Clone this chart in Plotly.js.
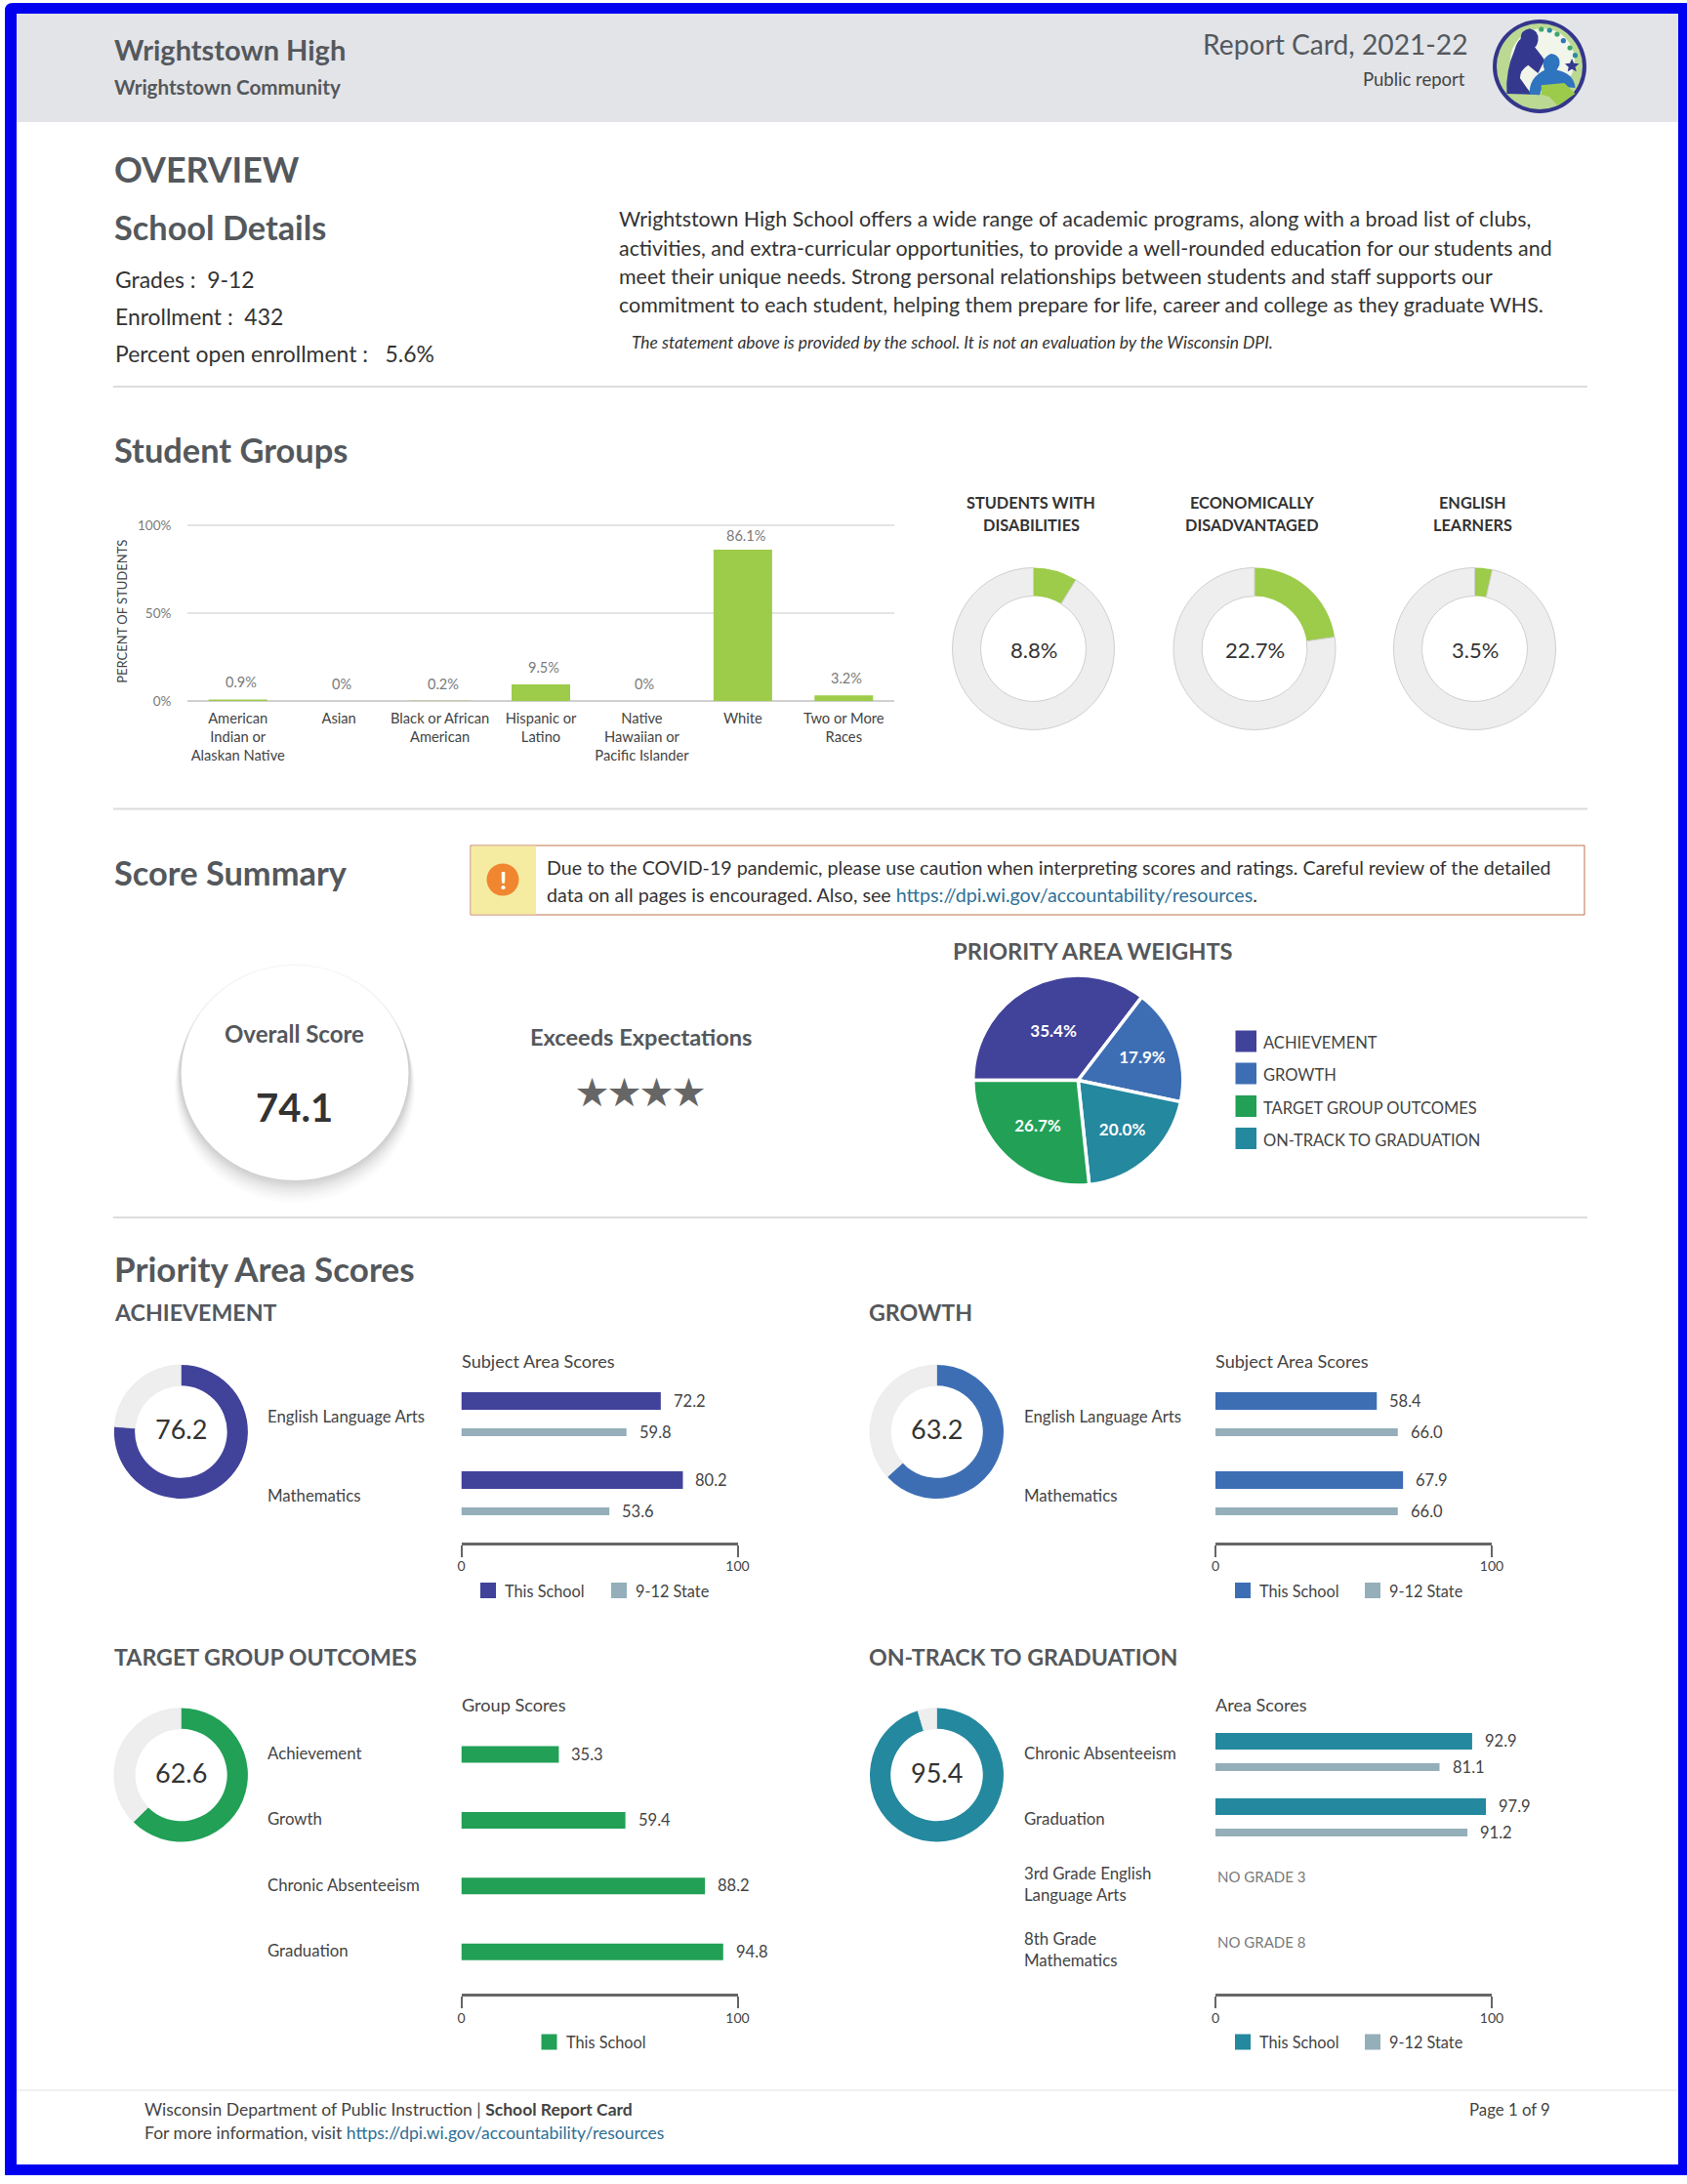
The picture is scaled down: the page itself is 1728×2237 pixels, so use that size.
<!DOCTYPE html>
<html><head><meta charset="utf-8">
<script src="https://cdn.plot.ly/plotly-3.0.1.min.js"></script>
<style>html,body{margin:0;padding:0;background:#fff}#chart{width:1728px;height:2237px}</style>
</head><body><div id="chart"></div>
<script>
// ---------- DATA ----------
const schoolName='Wrightstown High', districtName='Wrightstown Community';
const reportTitle='Report Card, 2021-22', reportSub='Public report';
const schoolDetails=['Grades :\u00a0 9-12','Enrollment :\u00a0 432','Percent open enrollment :\u00a0\u00a0 5.6%'];
const aboutLines=[
 'Wrightstown High School offers a wide range of academic programs, along with a broad list of clubs,',
 'activities, and extra-curricular opportunities, to provide a well-rounded education for our students and',
 'meet their unique needs. Strong personal relationships between students and staff supports our',
 'commitment to each student, helping them prepare for life, career and college as they graduate WHS.'];
const groupCategories=['American<br>Indian or<br>Alaskan Native','Asian','Black or African<br>American','Hispanic or<br>Latino','Native<br>Hawaiian or<br>Pacific Islander','White','Two or More<br>Races'];
const groupPercents=[0.9,0,0.2,9.5,0,86.1,3.2];
const swdPercent=[8.8,91.2], econPercent=[22.7,77.3], elPercent=[3.5,96.5];
const weightLabels=['ACHIEVEMENT','GROWTH','ON-TRACK TO GRADUATION','TARGET GROUP OUTCOMES'];
const weightValues=[35.4,17.9,20.0,26.7];
const weightLegendOrder=['ACHIEVEMENT','GROWTH','TARGET GROUP OUTCOMES','ON-TRACK TO GRADUATION'];
const overallScore='74.1', overallRating='Exceeds Expectations', ratingStars='★★★★';
const achCategories=['English Language Arts','Mathematics'];
const achSchool=[72.2,80.2], achState=[59.8,53.6], achDonut=[76.2,23.8];
const growthSchool=[58.4,67.9], growthState=[66.0,66.0], growthDonut=[63.2,36.8];
const targetCategories=['Achievement','Growth','Chronic Absenteeism','Graduation'];
const targetSchool=[35.3,59.4,88.2,94.8], targetDonut=[62.6,37.4];
const trackCategories=['Chronic Absenteeism','Graduation','3rd Grade English<br>Language Arts','8th Grade<br>Mathematics'];
const trackSchool=[92.9,97.9,null,null], trackState=[81.1,91.2,null,null], trackDonut=[95.4,4.6];
const trackNotes=[null,null,'NO GRADE 3','NO GRADE 8'];

// ---------- HELPERS ----------
const W=1728,H=2237,F='Lato, sans-serif';
const px=x=>x/W, py=y=>1-y/H;
const INK='#54585c', DARK='#333', MID='#444', GREY='#7a7a7a';
const annotations=[],shapes=[],traces=[],layout={};
function T(x,y,text,size,o={}){annotations.push({xref:'paper',yref:'paper',x:px(x-2),y:py(y-1.5),text,showarrow:false,
  xanchor:o.a||'left',yanchor:'middle',borderpad:0,textangle:o.angle||0,
  font:{family:o.family||F,size,color:o.color||DARK,weight:o.weight||400,style:o.style||'normal'}});}
function R(x0,y0,x1,y1,fill,line,lw){shapes.push({type:'rect',xref:'paper',yref:'paper',x0:px(x0),x1:px(x1),y0:py(y0),y1:py(y1),
  fillcolor:fill,line:{color:line||fill,width:line?(lw||1):0},layer:'below'});}
function C(cx,cy,r,fill,o={}){const ry=o.ry||r;shapes.push({type:'circle',xref:'paper',yref:'paper',x0:px(cx-r),x1:px(cx+r),y0:py(cy-ry),y1:py(cy+ry),
  fillcolor:fill,opacity:o.op==null?1:o.op,line:{color:o.line||fill,width:o.lw||0},layer:'below'});}
function P(d,fill,fx,fy){shapes.push({type:'path',xref:'paper',yref:'paper',layer:'below',fillcolor:fill,line:{width:0},
  path:d.replace(/(-?[\d.]+) (-?[\d.]+)/g,(m,a,b)=>px(fx?fx(+a):+a)+','+py(fy?fy(+b):+b))});}

// ---------- PAGE FRAME ----------
P('M5 11 Q5 3 13 3 L1728 3 L1728 2228 L5 2228 Z','#0000f0');
R(17,14,1719,2217,'#ffffff');
R(17,14,1719,125,'#e3e4e8');
[[396],[828.5],[1247]].forEach(([y])=>R(116,y-1,1626,y+1,'#dcdcdc'));
R(17,2140,1719,2142,'#f0f0f0');

// ---------- HEADER ----------
T(118,52,schoolName,29,{color:INK,weight:700});
T(118,90,districtName,20.6,{color:INK,weight:700});
T(1507,46,reportTitle,28.2,{a:'right',color:INK});
T(1504,82,reportSub,18.5,{a:'right',color:MID});
// logo
C(1577,68,48,'#34358c'); C(1577,68,44,'#bcd994'); C(1580,62,33,'#f2f5ea');
const lx=x=>1200+x/2.97, ly=y=>y/3;
P('M1090 88 Q1120 95 1115 125 Q1112 140 1105 145 Q1125 170 1135 185 L1115 225 L1085 200 Q1060 215 1060 240 L1095 290 L1020 288 Q1015 220 1045 150 Q1050 130 1062 120 Q1062 92 1090 88 Z','#34398f',lx,ly);
P('M1155 165 Q1185 170 1180 200 L1172 215 Q1225 225 1228 270 L1130 262 L1120 292 L1090 290 Q1085 240 1135 215 Q1120 180 1155 165 Z','#2f74bf',lx,ly);
P('M1125 262 L1195 255 L1228 288 L1175 325 L1150 298 L1125 290 Z','#9ccb4c',lx,ly);
P('M1218 180 L1224 194 L1240 196 L1228 206 L1232 220 L1218 212 L1205 220 L1208 206 L1197 196 L1212 194 Z','#34398f',lx,ly);
[[1125,90,'#3fa56d'],[1150,93,'#2f8aa0'],[1173,105,'#3fa56d'],[1192,125,'#2f74bf'],[1212,147,'#3fa56d'],[1228,170,'#2f8aa0']]
  .forEach(([a,b,c])=>C(lx(a),ly(b),2.6,c));

// ---------- OVERVIEW ----------
T(118,175,'OVERVIEW',35.8,{color:INK,weight:700});
T(118,234,'School Details',34.3,{color:INK,weight:700});
schoolDetails.forEach((t,i)=>T(119,[288,325,363.5][i],t,22.9,{color:DARK}));
aboutLines.forEach((t,i)=>T(634.5,[225.5,255,284.5,314][i],t,21.4,{color:DARK}));
T(648,352,'The statement above is provided by the school. It is not an evaluation by the Wisconsin DPI.',17.4,{style:'italic',color:DARK});

// ---------- STUDENT GROUPS ----------
T(118,462,'Student Groups',34.4,{color:INK,weight:700});
traces.push({type:'bar',x:groupCategories,y:groupPercents,xaxis:'x',yaxis:'y',marker:{color:'#9dcb4a'},hoverinfo:'skip'});
layout.xaxis={domain:[px(192),px(916)],anchor:'y',type:'category',categoryorder:'array',categoryarray:groupCategories,
  tickfont:{family:F,size:14.7,color:MID},ticks:'outside',ticklen:4,tickcolor:'rgba(0,0,0,0)',showgrid:false,showline:false,zeroline:false,tickangle:0};
layout.yaxis={domain:[py(718),py(534.4)],anchor:'x',range:[0,102],tickvals:[0,50,100],ticktext:['0%','50%','100%'],
  tickfont:{family:F,size:13.5,color:GREY},ticks:'outside',ticklen:13,tickcolor:'rgba(0,0,0,0)',gridcolor:'#e4e4e4',gridwidth:1.5,
  zeroline:true,zerolinecolor:'#d0d0d0',zerolinewidth:1.5,showline:false,
  title:{text:'PERCENT OF STUDENTS',standoff:6.5,font:{family:F,size:13,color:MID}}};
groupPercents.forEach((v,i)=>annotations.push({xref:'x',yref:'y',x:groupCategories[i],y:v,text:v+'%',showarrow:false,xshift:3,yshift:v>50?14.5:17.5,
  yanchor:'middle',xanchor:'center',font:{family:F,size:14.5,color:GREY}}));
function donut(values,cx,cy,d,hole,color,outline){
  traces.push({type:'pie',values,sort:false,direction:'clockwise',rotation:0,hole,textinfo:'none',hoverinfo:'skip',showlegend:false,
   domain:{x:[px(cx-d/2),px(cx+d/2)],y:[py(cy+d/2),py(cy-d/2)]},
   marker:{colors:[color,'#eeeeee'],line:{color:outline?['#9dcb4a','#cfcfcf']:['#ffffff','#e4e4e4'],width:outline?[0,1]:[0,0.5]}}});
}
const GREEN='#9dcb4a';
[['STUDENTS WITH','DISABILITIES',1058,swdPercent,1058.5],['ECONOMICALLY','DISADVANTAGED',1284,econPercent,1285],['ENGLISH','LEARNERS',1510,elPercent,1510.5]]
 .forEach(([a,b,tx,vals,cx])=>{
  T(tx,515.5,a,16.3,{a:'center',color:DARK,weight:700});T(tx,539.5,b,16.3,{a:'center',color:DARK,weight:700});
  donut(vals,cx,664.5,166,0.65,GREEN,true);
  T(cx+2,667,vals[0]+'%',22,{a:'center',color:DARK});
 });

// ---------- SCORE SUMMARY ----------
T(118,895,'Score Summary',34.4,{color:INK,weight:700});
R(482,866,1623,937,'#ffffff','#c0704a',1);
R(482.5,866.5,549,936.5,'#f5eca2');
C(515,901,16.5,'#f0862f');
T(517,902,'!',25,{a:'center',color:'#ffffff',weight:900});
T(561,890,'Due to the COVID-19 pandemic, please use caution when interpreting scores and ratings. Careful review of the detailed',19.65,{color:DARK});
T(561,918,'data on all pages is encouraged. Also, see <span style="color:#2e6f95">https://dpi.wi.gov/accountability/resources</span>.',19.65,{color:DARK});
[[16,0.01],[14,0.012],[12,0.015],[10,0.018],[8,0.02],[6,0.025],[4,0.03],[2,0.03],[0,0.03]].forEach(([o,a])=>C(302,1099+o,116.5+o/3+1.5,'#000000',{op:a,ry:110+o/3+1.5}));
C(302,1099,116.5,'#ffffff',{ry:110});
T(303,1060,'Overall Score',24,{a:'center',color:INK,weight:700});
T(303,1135,overallScore,40,{a:'center',color:DARK,weight:700});
T(658,1063,overallRating,23.6,{a:'center',color:INK,weight:700});
T(658,1118.5,ratingStars,33,{a:'center',color:'#666666',family:'Noto Sans CJK SC'});
T(977,975.5,'PRIORITY AREA WEIGHTS',23.7,{color:INK,weight:700});
const ACH='#41429a',GRW='#3d6eb4',TGT='#21a056',TRK='#24889f',STATE='#94afb9';
traces.push({type:'pie',labels:weightLabels,values:weightValues,sort:false,direction:'clockwise',rotation:270,showlegend:false,hoverinfo:'skip',
  domain:{x:[px(996),px(1212.5)],y:[py(1214),py(999)]},textposition:'inside',insidetextorientation:'horizontal',
  texttemplate:'%{value:.1f}%',textfont:{family:F,size:17,color:'#fff',weight:700},
  marker:{colors:[ACH,GRW,TRK,TGT],line:{color:'#fff',width:3.5}}});
const weightColor={'ACHIEVEMENT':ACH,'GROWTH':GRW,'TARGET GROUP OUTCOMES':TGT,'ON-TRACK TO GRADUATION':TRK};
weightLegendOrder.forEach((n,i)=>{const y=[1066.5,1099.5,1133,1166][i];
  R(1265.5,y-11,1287,y+11,weightColor[n]);T(1294.5,y+3,n,16.5,{color:MID});});

// ---------- PRIORITY AREA SCORES ----------
T(118,1300,'Priority Area Scores',35,{color:INK,weight:700});
function panel(n,p){
  const xn='x'+n,yn='y'+n;
  T(p.titleX,p.titleY,p.title,23.2,{color:INK,weight:700});
  T(p.barX0+1,p.subY,p.sub,18.1,{color:MID});
  donut(p.donut,p.donutX,p.donutY,137,0.69,p.color,false);
  T(p.donutX+2,p.donutY-1.5,p.donut[0].toFixed(1),27,{a:'center',color:DARK});
  const u=p.spacing, top=p.top, bottom=p.axisY;
  layout['xaxis'+n]={domain:[px(p.barX0),px(p.barX1)],anchor:yn,range:[0,100],tickvals:[0,100],ticks:'outside',ticklen:12,tickwidth:2,tickcolor:'#666',
    ticklabelstandoff:-2,showline:true,linecolor:'#666',linewidth:3,showgrid:false,zeroline:false,tickfont:{family:F,size:14,color:MID}};
  layout['yaxis'+n]={domain:[py(bottom),py(top)],anchor:xn,type:'category',categoryorder:'array',categoryarray:p.categories,
    range:[(bottom-p.cat0)/u,(top-p.cat0)/u],showticklabels:false,ticks:'',showgrid:false,zeroline:false,showline:false};
  const add=(vals,color,off,h)=>{
    traces.push({type:'bar',orientation:'h',y:p.categories,x:vals,xaxis:xn,yaxis:yn,width:h/u,offset:off/u,marker:{color},hoverinfo:'skip'});
    vals.forEach((v,i)=>{ if(v==null) return;
      annotations.push({xref:xn,yref:yn,x:v,y:p.categories[i],text:v.toFixed(1),showarrow:false,xanchor:'left',yanchor:'middle',xshift:11,yshift:-(off+h/2)+0.5,
        font:{family:F,size:16.5,color:MID}});});
  };
  add(p.school,p.color,p.off[0],p.h[0]);
  if(p.state) add(p.state,STATE,p.off[1],p.h[1]);
  p.categories.forEach(c=>annotations.push({xref:'paper',yref:yn,x:px(p.labelX),y:c,text:c,align:'left',showarrow:false,xanchor:'left',yanchor:'middle',yshift:p.labelShift||0,
    font:{family:F,size:16.8,color:MID}}));
  if(p.notes) p.notes.forEach((t,i)=>{ if(t) annotations.push({xref:xn,yref:yn,x:0,y:p.categories[i],text:t,showarrow:false,xanchor:'left',yanchor:'middle',yshift:9,
    font:{family:F,size:15,color:GREY}});});
  p.legend.forEach(([t,c,sx])=>{R(sx,p.legendY-8,sx+16,p.legendY+8,c);T(sx+26,p.legendY+1.5,t,16.3,{color:MID});});
}
const d=772;
panel(2,{title:'ACHIEVEMENT',titleX:118,titleY:1345,sub:'Subject Area Scores',subY:1395,color:ACH,donut:achDonut,donutX:185.4,donutY:1466.5,
  barX0:472.5,barX1:755.5,labelX:272,categories:achCategories,school:achSchool,state:achState,spacing:81,cat0:1450.7,top:1410,axisY:1579.5,off:[-24.7,12.3],h:[18,8],
  legendY:1629,legend:[['This School',ACH,492],['9-12 State',STATE,626]]});
panel(3,{title:'GROWTH',titleX:891,titleY:1345,sub:'Subject Area Scores',subY:1395,color:GRW,donut:growthDonut,donutX:959.5,donutY:1466.5,
  barX0:473+d,barX1:756+d,labelX:1047,categories:achCategories,school:growthSchool,state:growthState,spacing:81,cat0:1450.7,top:1410,axisY:1579.5,off:[-24.7,12.3],h:[18,8],
  legendY:1629,legend:[['This School',GRW,1265],['9-12 State',STATE,1398]]});
panel(4,{title:'TARGET GROUP OUTCOMES',titleX:118,titleY:1698,sub:'Group Scores',subY:1747,color:TGT,donut:targetDonut,donutX:185.4,donutY:1818,
  barX0:472.5,barX1:755.5,labelX:272,labelShift:1.5,categories:targetCategories,school:targetSchool,spacing:67.4,cat0:1797,top:1762,axisY:2042,off:[-8.5],h:[17],
  legendY:2091.5,legend:[['This School',TGT,554.5]]});
panel(5,{title:'ON-TRACK TO GRADUATION',titleX:891,titleY:1698,sub:'Area Scores',subY:1747,color:TRK,donut:trackDonut,donutX:959.5,donutY:1818,
  barX0:473+d,barX1:756+d,labelX:1047,labelShift:1.5,categories:trackCategories,school:trackSchool,state:trackState,notes:trackNotes,spacing:67,cat0:1797,top:1762,axisY:2042,off:[-22,9],h:[17,8],
  legendY:2091.5,legend:[['This School',TRK,1265],['9-12 State',STATE,1398]]});

// ---------- FOOTER ----------
T(149,2161.5,'Wisconsin Department of Public Instruction | <b>School Report Card</b>',17.5,{color:MID});
T(149,2185.5,'For more information, visit <span style="color:#2e6f95">https://dpi.wi.gov/accountability/resources</span>',17.5,{color:MID});
T(1591,2161.5,'Page 1 of 9',16.8,{a:'right',color:MID});

Object.assign(layout,{width:W,height:H,margin:{l:0,r:0,t:0,b:0,pad:0},paper_bgcolor:'#fff',plot_bgcolor:'rgba(0,0,0,0)',
  showlegend:false,barmode:'overlay',bargap:0.42,annotations,shapes,font:{family:F}});
Plotly.newPlot('chart',traces,layout,{displayModeBar:false,staticPlot:true});
</script></body></html>
